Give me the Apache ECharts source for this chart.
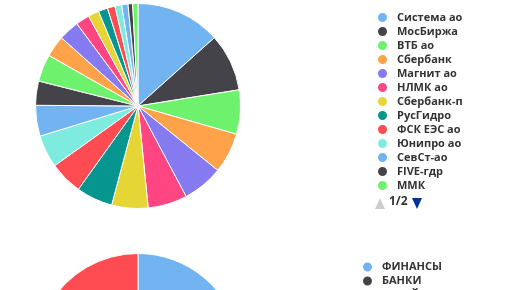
<!DOCTYPE html>
<html><head><meta charset="utf-8">
<script src="https://cdn.jsdelivr.net/npm/echarts@6/dist/echarts.min.js"></script>
<style>html,body{margin:0;padding:0;background:#fff}#c{width:516px;height:290px}</style>
</head><body><div id="c"></div>
<script>
const stockNames = ['Система ао','МосБиржа','ВТБ ао','Сбербанк','Магнит ао','НЛМК ао','Сбербанк-п','РусГидро','ФСК ЕЭС ао','Юнипро ао','СевСт-ао','FIVE-гдр','ММК','Аэрофлот','АЛРОСА ао','Интер РАО','ГМКНорНик','Татнфт 3ао','МТС-ао','Ростел -ао','ЛУКОЙЛ','Polymetal','Россети'];
const stockValues = [48.2,32.7,25.1,22.9,23.1,22.3,20.6,20.7,18.8,18.5,17.5,13.7,15.5,12.1,11.7,7.8,6.2,5.3,4.3,3.8,3.6,2.6,3.0];
const stockLegendPage1 = stockNames.slice(0, 13);
const stockLegendPageText = '1/2';
const sectorNames = ['ФИНАНСЫ','БАНКИ','РИТЕЙЛ','МЕТАЛЛУРГИЯ','ЭНЕРГЕТИКА','НЕФТЬ И ГАЗ','ТЕЛЕКОМ','ТРАНСПОРТ','ЭЛЕКТРОСЕТИ'];
const sectorValues = [80,70,40,50,20,15,10,15,60];
const palette = ['#72b3f2','#434349','#6ef26e','#ffa24a','#857aef','#ff4682','#e5d535','#06968f','#ff4b52','#7decdf'];

const FONT = '"Open Sans"';
const chart = echarts.init(document.getElementById('c'), null, {renderer:'canvas'});
const legendBase = {
  orient:'vertical', padding:0, itemWidth:11, itemHeight:11, itemGap:1, icon:'circle', height:500,
  textStyle:{fontFamily:FONT, fontSize:11, fontWeight:'bold', color:'#333', padding:[0,0,0,4]}
};
function pieData(names, values){
  return names.map((n,i)=>({name:n, value:values[i], itemStyle:{color:palette[i%palette.length]}}));
}
chart.setOption({
  animation:false,
  legend:[
    Object.assign({}, legendBase, {left:376, top:11, data: stockLegendPage1}),
    Object.assign({}, legendBase, {left:361, top:260.5, data: sectorNames})
  ],
  graphic:[
    {type:'polygon', shape:{points:[[375,209],[380,198],[385,209]]}, style:{fill:'#cccccc'}},
    {type:'text', left:389, top:196, style:{text:stockLegendPageText, font:'bold 12px "Open Sans"', fill:'#333'}},
    {type:'polygon', shape:{points:[[412,198],[422,198],[417,209]]}, style:{fill:'#003399'}}
  ],
  series:[
    {type:'pie', center:[138,106], radius:[0,102.5], startAngle:90, label:{show:false}, labelLine:{show:false},
     emphasis:{disabled:true}, itemStyle:{borderColor:'#fff', borderWidth:1},
     data: pieData(stockNames, stockValues)},
    {type:'pie', center:[138,356], radius:[0,102.5], startAngle:90, label:{show:false}, labelLine:{show:false},
     emphasis:{disabled:true}, itemStyle:{borderColor:'#fff', borderWidth:1},
     data: pieData(sectorNames, sectorValues)}
  ]
});
</script></body></html>
